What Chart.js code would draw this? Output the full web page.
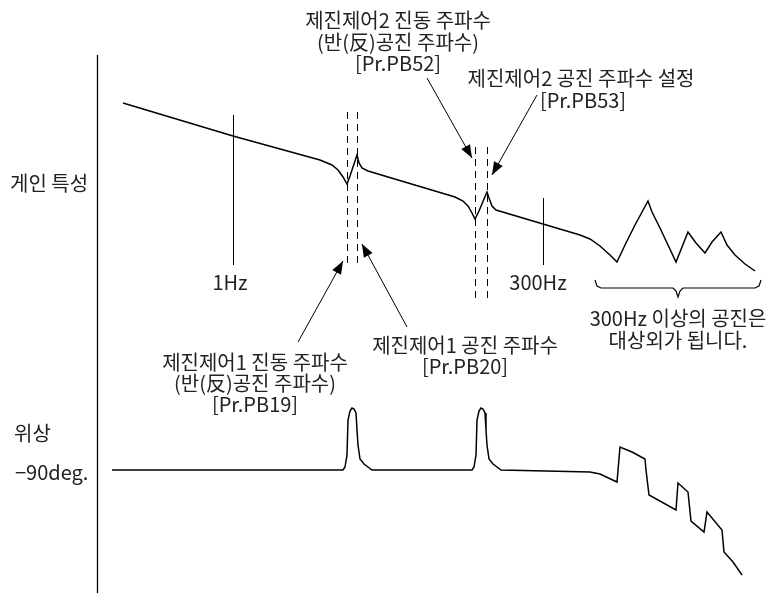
<!DOCTYPE html>
<html>
<head>
<meta charset="utf-8">
<script src="https://cdn.jsdelivr.net/npm/chart.js@4.4.1/dist/chart.umd.min.js"></script>
<style>
  html, body { margin: 0; padding: 0; background: #fff; }
  #wrap { width: 767px; height: 593px; }
</style>
</head>
<body>
<div id="wrap"><canvas id="chart"></canvas></div>
<script>
// diagram units: x left→right, y top→bottom (0..767, 0..593)
const gainCurve = [
    [123, 103], [233, 136], [320, 160], [332, 165], [338, 170], [343, 177], [347, 184],
    [350, 176], [354, 164], [357, 155], [359, 163], [362, 168], [368, 171],
    [455, 197], [463, 201], [468, 206], [472, 213], [475, 219], [479, 211], [484, 199],
    [487, 192], [489, 198], [492, 206], [496, 210], [543, 224], [580, 235], [590, 239],
    [600, 246], [610, 255], [617, 262], [625, 245], [635, 225], [648, 201], [652, 212],
    [660, 228], [668, 245], [676, 262], [682, 247], [688, 232], [696, 243], [705, 253],
    [712, 242], [721, 232], [727, 245], [735, 255], [745, 264], [755, 271]
];
const phaseCurve = [
    [112, 470], [343, 470], [345, 467], [347, 455], [348, 420], [350, 411], [352, 408],
    [354, 409], [356, 413], [357, 430], [358, 445], [360, 459], [364, 464], [372, 470],
    [472, 470], [474, 467], [476, 455], [477, 420], [479, 411], [481, 408], [483, 409],
    [485, 413], [486, 430], [487, 445], [489, 459], [493, 464], [501, 470],
    [590, 472], [600, 474], [617, 482], [620, 447], [632, 452], [645, 459], [646, 470],
    [649, 495], [676, 510], [678, 483], [688, 492], [691, 521], [704, 532], [707, 512],
    [722, 530], [724, 552], [733, 562], [742, 575]
];
const axisLine = [[97.5, 55], [97.5, 593]];
const tickLines = [
    [[233.5, 115], [233.5, 265]],
    [[543.5, 198], [543.5, 265]]
];
const dashedLines = [
    [[347.5, 112], [347.5, 263]],
    [[357.5, 112], [357.5, 263]],
    [[475.5, 147], [475.5, 300]],
    [[487.5, 147], [487.5, 300]]
];
const arrows = [
    [[298, 342], [343, 261]],
    [[407, 327], [362, 244]],
    [[427, 78], [472, 158]],
    [[537, 95], [492, 175]]
];
const brace = [
    [595, 280], [597, 286], [601, 288], [673, 288], [676, 291], [678, 297],
    [680, 291], [683, 288], [755, 288], [759, 286], [761, 280]
];
const labels = [
    ['제진제어2 진동 주파수', 398, 20, 'center'],
    ['(반(反)공진 주파수)', 398, 42, 'center'],
    ['[Pr.PB52]', 398, 63, 'center'],
    ['제진제어2 공진 주파수 설정', 581, 78, 'center'],
    ['[Pr.PB53]', 583, 100, 'center'],
    ['1Hz', 230, 282, 'center'],
    ['300Hz', 538, 282, 'center'],
    ['300Hz 이상의 공진은', 678, 318, 'center'],
    ['대상외가 됩니다.', 678, 340, 'center'],
    ['제진제어1 진동 주파수', 255, 362, 'center'],
    ['(반(反)공진 주파수)', 255, 383, 'center'],
    ['[Pr.PB19]', 255, 404, 'center'],
    ['제진제어1 공진 주파수', 465, 345, 'center'],
    ['[Pr.PB20]', 465, 366, 'center'],
    ['게인 특성', 10, 183, 'left'],
    ['위상', 14, 433, 'left'],
    ['−90deg.', 15, 472, 'left']
];

const pts = (arr) => arr.map(([x, y]) => ({x, y}));

function lineSet(points, width, dash, tag) {
    return {
        data: pts(points),
        showLine: true,
        borderColor: '#000',
        borderWidth: width,
        borderDash: dash || [],
        pointRadius: 0,
        fill: false,
        tension: 0,
        tag: tag || ''
    };
}

const datasets = [
    lineSet(axisLine, 1.3),
    lineSet(gainCurve, 1.5),
    lineSet(phaseCurve, 1.5),
    lineSet(brace, 1.2),
    ...tickLines.map(l => lineSet(l, 1)),
    ...dashedLines.map(l => lineSet(l, 1, [7, 5])),
    ...arrows.map(l => lineSet(l, 1, [], 'arrow'))
];

const overlay = {
    id: 'overlay',
    afterDatasetsDraw(chart) {
        const {ctx, scales: {x, y}} = chart;
        ctx.save();
        // arrowheads
        chart.data.datasets.forEach(ds => {
            if (ds.tag !== 'arrow') return;
            const a = ds.data[ds.data.length - 2], b = ds.data[ds.data.length - 1];
            const x1 = x.getPixelForValue(a.x), y1 = y.getPixelForValue(a.y);
            const x2 = x.getPixelForValue(b.x), y2 = y.getPixelForValue(b.y);
            const ang = Math.atan2(y2 - y1, x2 - x1);
            const len = 13, half = 5;
            ctx.fillStyle = '#000';
            ctx.beginPath();
            ctx.moveTo(x2, y2);
            ctx.lineTo(x2 - len * Math.cos(ang) + half * Math.sin(ang), y2 - len * Math.sin(ang) - half * Math.cos(ang));
            ctx.lineTo(x2 - len * Math.cos(ang) - half * Math.sin(ang), y2 - len * Math.sin(ang) + half * Math.cos(ang));
            ctx.closePath();
            ctx.fill();
        });
        // texts
        ctx.fillStyle = '#222';
        ctx.font = '20px "Noto Sans CJK KR", "Noto Sans", sans-serif';
        ctx.textBaseline = 'middle';
        labels.forEach(([t, lx, ly, align]) => {
            ctx.textAlign = align;
            ctx.fillText(t, x.getPixelForValue(lx), y.getPixelForValue(ly));
        });
        ctx.restore();
    }
};

new Chart(document.getElementById('chart'), {
    type: 'scatter',
    data: {datasets},
    options: {
        responsive: true,
        maintainAspectRatio: false,
        animation: false,
        layout: {padding: 0},
        scales: {
            x: {type: 'linear', min: 0, max: 767, display: false},
            y: {type: 'linear', min: 0, max: 593, reverse: true, display: false}
        },
        plugins: {
            legend: {display: false},
            tooltip: {enabled: false}
        }
    },
    plugins: [overlay]
});
</script>
</body>
</html>
